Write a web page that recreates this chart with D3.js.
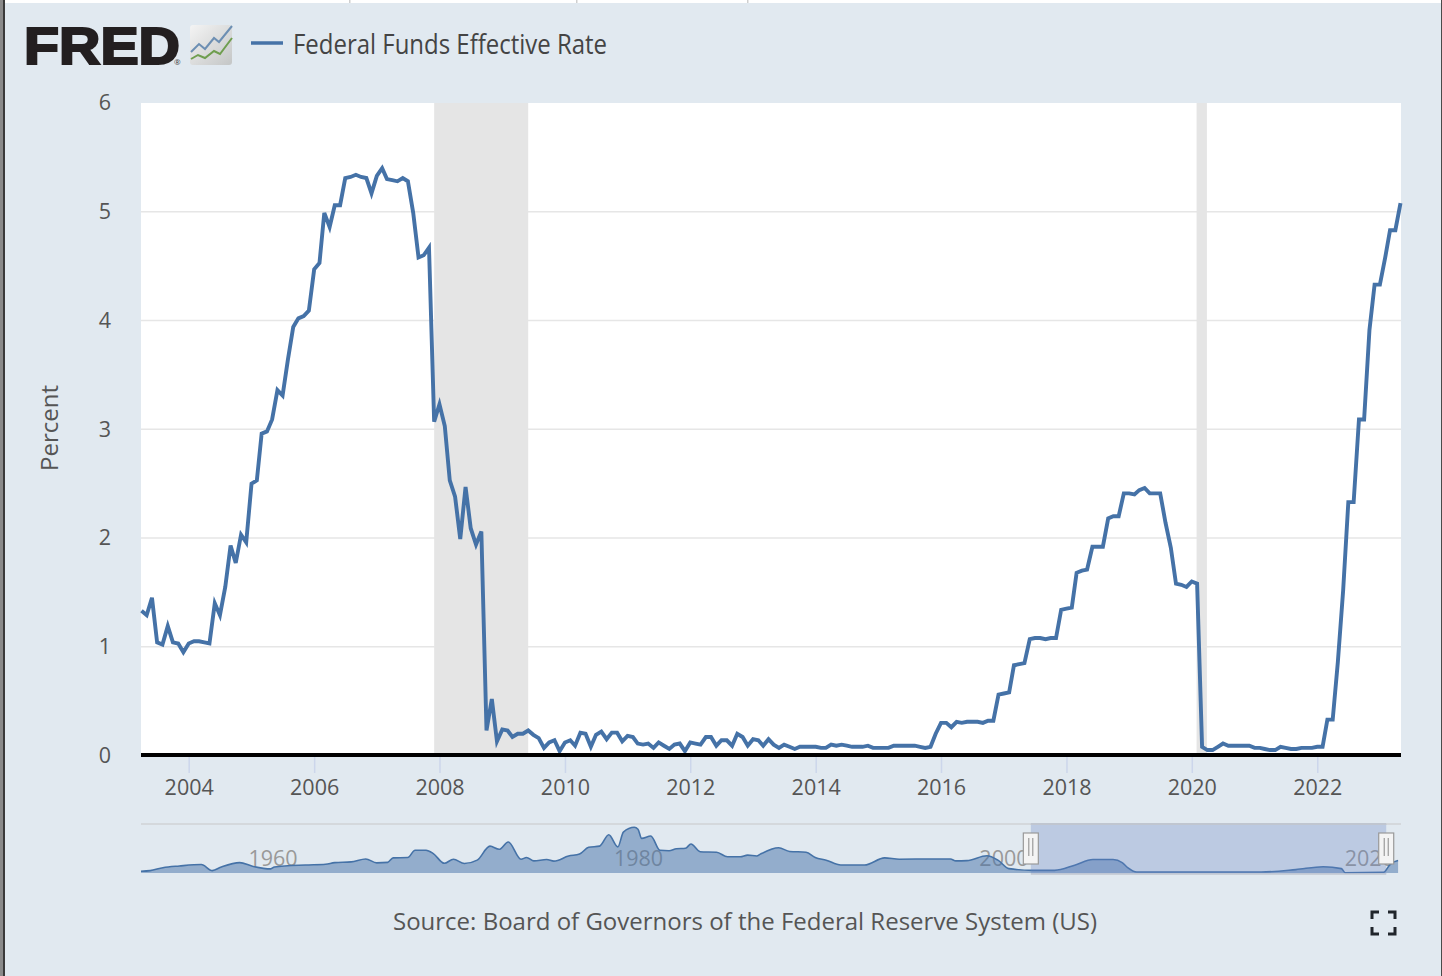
<!DOCTYPE html>
<html>
<head>
<meta charset="utf-8">
<title>Federal Funds Effective Rate</title>
<script src="https://cdn.jsdelivr.net/npm/d3@7"></script>
<style>
  html, body { margin: 0; padding: 0; background: #e1e9f0; overflow: hidden; }
  svg { display: block; font-family: "Open Sans", sans-serif; }
</style>
</head>
<body>
<script>
// monthly values, series starts Apr 2003
const rate2003 = [1.33, 1.29, 1.45, 1.04, 1.02, 1.19, 1.04, 1.03, 0.95];
const rate2004 = [1.03, 1.05, 1.05, 1.04, 1.03, 1.40, 1.29, 1.55, 1.93, 1.77, 2.03, 1.96];
const rate2005 = [2.50, 2.53, 2.96, 2.98, 3.09, 3.36, 3.31, 3.64, 3.94, 4.02, 4.04, 4.09];
const rate2006 = [4.47, 4.53, 4.99, 4.86, 5.06, 5.06, 5.31, 5.32, 5.34, 5.32, 5.31, 5.17];
const rate2007 = [5.33, 5.40, 5.30, 5.29, 5.28, 5.31, 5.28, 4.99, 4.58, 4.60, 4.67, 3.07];
const rate2008 = [3.23, 3.03, 2.53, 2.38, 1.99, 2.47, 2.09, 1.94, 2.06, 0.23, 0.52, 0.13];
const rate2009 = [0.24, 0.23, 0.17, 0.20, 0.20, 0.23, 0.19, 0.16, 0.07, 0.12, 0.14, 0.04];
const rate2010 = [0.12, 0.14, 0.09, 0.21, 0.20, 0.08, 0.19, 0.22, 0.15, 0.21, 0.21, 0.13];
const rate2011 = [0.18, 0.17, 0.11, 0.10, 0.11, 0.07, 0.12, 0.09, 0.06, 0.10, 0.11, 0.04];
const rate2012 = [0.12, 0.11, 0.10, 0.17, 0.17, 0.09, 0.14, 0.14, 0.09, 0.20, 0.17, 0.09];
const rate2013 = [0.15, 0.14, 0.09, 0.15, 0.10, 0.07, 0.10, 0.08, 0.06, 0.08, 0.08, 0.08];
const rate2014 = [0.08, 0.07, 0.07, 0.10, 0.09, 0.10, 0.09, 0.08, 0.08, 0.08, 0.09, 0.07];
const rate2015 = [0.07, 0.07, 0.07, 0.09, 0.09, 0.09, 0.09, 0.09, 0.08, 0.07, 0.08, 0.20];
const rate2016 = [0.30, 0.30, 0.26, 0.31, 0.30, 0.31, 0.31, 0.31, 0.30, 0.32, 0.32, 0.56];
const rate2017 = [0.57, 0.58, 0.83, 0.84, 0.85, 1.07, 1.08, 1.08, 1.07, 1.08, 1.08, 1.34];
const rate2018 = [1.35, 1.36, 1.68, 1.70, 1.71, 1.92, 1.92, 1.92, 2.18, 2.20, 2.20, 2.41];
const rate2019 = [2.41, 2.40, 2.44, 2.46, 2.41, 2.41, 2.41, 2.14, 1.91, 1.58, 1.57, 1.55];
const rate2020 = [1.60, 1.58, 0.08, 0.05, 0.05, 0.08, 0.11, 0.09, 0.09, 0.09, 0.09, 0.09];
const rate2021 = [0.07, 0.07, 0.06, 0.05, 0.05, 0.08, 0.07, 0.06, 0.06, 0.07, 0.07, 0.07];
const rate2022 = [0.08, 0.08, 0.33, 0.33, 0.86, 1.52, 2.33, 2.33, 3.09, 3.09, 3.91, 4.33];
const rate2023 = [4.33, 4.58, 4.83, 4.83, 5.08];

// recession bands, [start, end]
const recessions = [[new Date(2007, 11, 1), new Date(2009, 5, 1)], [new Date(2020, 0, 29), new Date(2020, 2, 29)]];

// navigator: whole history, smoothed. decimal year / percent
const navYears = [1954.5, 1955.0, 1955.7, 1956.6, 1957.8, 1958.4, 1958.9, 1959.9, 1960.6, 1961.6, 1961.8, 1963.5, 1964.6, 1965.1, 1966.0, 1966.8, 1967.4, 1968.0, 1968.3, 1969.1, 1969.5, 1970.1, 1970.5, 1971.1, 1971.6, 1972.2, 1972.9, 1973.6, 1974.1, 1974.6, 1975.3, 1975.6, 1976.0, 1976.7, 1977.1, 1977.9, 1978.5, 1979.0, 1979.6, 1980.1, 1980.6, 1980.9, 1981.5, 1981.7, 1981.9, 1982.4, 1982.9, 1983.4, 1983.8, 1984.3, 1984.6, 1985.1, 1986.0, 1986.6, 1987.3, 1987.7, 1988.2, 1988.4, 1989.4, 1990.0, 1990.9, 1991.4, 1992.0, 1992.8, 1994.1, 1995.2, 1996.0, 1997.6, 1998.8, 1999.1, 1999.7, 2000.8, 2001.4, 2002.0, 2003.3, 2004.5, 2005.6, 2006.6, 2007.7, 2008.2, 2008.5, 2009.0, 2015.8, 2017.7, 2019.2, 2020.2, 2020.4, 2022.5, 2022.9, 2023.3];
const navValues = [0.7, 0.97, 2.2, 2.9, 3.5, 1.0, 2.5, 4.3, 2.8, 1.7, 2.5, 3.3, 3.6, 4.3, 4.6, 5.8, 4.2, 4.4, 6.25, 6.4, 9.4, 9.4, 8.0, 4.0, 5.7, 3.9, 5.3, 11.1, 9.8, 12.8, 5.7, 6.4, 5.0, 5.6, 4.9, 7.0, 7.8, 10.6, 11.1, 15.8, 10.8, 16.9, 18.9, 18.1, 14.3, 15.3, 9.4, 9.2, 10.0, 10.2, 12.0, 8.8, 8.6, 6.7, 6.7, 7.4, 7.0, 7.8, 10.4, 8.9, 8.6, 6.4, 5.3, 3.3, 3.3, 6.25, 5.7, 5.8, 5.8, 5.0, 5.1, 7.1, 5.3, 1.8, 1.1, 1.1, 3.2, 5.55, 5.55, 4.3, 2.2, 0.4, 0.4, 1.4, 2.6, 1.8, 0.1, 0.3, 3.9, 5.2];
const navTicks = [1960, 1980, 2000, 2020];

const yTicks = [0, 1, 2, 3, 4, 5, 6];
const seriesName = "Federal Funds Effective Rate";
const sourceText = "Source: Board of Governors of the Federal Reserve System (US)";

const rates = [rate2003, rate2004, rate2005, rate2006, rate2007, rate2008, rate2009, rate2010, rate2011, rate2012, rate2013,
  rate2014, rate2015, rate2016, rate2017, rate2018, rate2019, rate2020, rate2021, rate2022, rate2023].flat();
const data = rates.map((v, i) => ({date: new Date(2003, 3 + i, 1), value: v}));
const nav = navYears.map((y, i) => ({year: y, value: navValues[i]}));

const width = 1442, height = 976;
const lineColor = "#4572a7", textColor = "#555";
const margin = {top: 103, right: 41, bottom: 221, left: 141};
const baseline = height - margin.bottom;

const svg = d3.select("body").append("svg").attr("width", width).attr("height", height);

const x = d3.scaleTime()
    .domain([data[0].date, data[data.length - 1].date])
    .range([margin.left + 0.5, width - margin.right - 0.5]);
const y = d3.scaleLinear().domain([0, 6]).range([baseline + 0.5, margin.top]);

// page furniture, bits of the window around the screenshot
svg.append("rect").attr("width", width).attr("height", 3).attr("fill", "#fff");
svg.append("g").selectAll("rect").data([349, 576, 747]).join("rect")
    .attr("x", d => d).attr("width", 1.5).attr("height", 3).attr("fill", "#cfcfcf");
svg.append("rect").attr("width", 3).attr("height", height).attr("fill", "#8a8a8a");
svg.append("rect").attr("x", 3).attr("width", 2).attr("height", height).attr("fill", "#3a3a3a");
svg.append("rect").attr("x", 1441).attr("width", 1).attr("height", height).attr("fill", "#4a4a4a");

// logo
svg.append("text").attr("x", 24).attr("y", 64)
    .attr("font-family", "'Liberation Sans', sans-serif").attr("font-weight", 700).attr("font-size", 52)
    .attr("textLength", 156).attr("lengthAdjust", "spacingAndGlyphs")
    .attr("fill", "#231f20").attr("stroke", "#231f20").attr("stroke-width", 2.2).text("FRED");
svg.append("text").attr("x", 174).attr("y", 65).attr("font-size", 8).attr("fill", "#444").text("®");
const logoGrad = svg.append("defs").append("linearGradient").attr("id", "logoGrad")
    .attr("x1", 0).attr("y1", 0).attr("x2", 1).attr("y2", 1);
logoGrad.append("stop").attr("offset", 0).attr("stop-color", "#f4f4f4");
logoGrad.append("stop").attr("offset", 1).attr("stop-color", "#c4c6c6");
const icon = svg.append("g").attr("transform", "translate(190,25)");
icon.append("rect").attr("width", 42).attr("height", 40).attr("rx", 3).attr("fill", "url(#logoGrad)");
icon.append("path").attr("d", "M1,27L9,19L15,24L24,13L29,17L42,1").attr("fill", "none").attr("stroke", "#6d8fb3").attr("stroke-width", 2);
icon.append("path").attr("d", "M1,34L8,30L15,33L24,26L30,29L42,13").attr("fill", "none").attr("stroke", "#6f9e4f").attr("stroke-width", 2);

// legend
svg.append("line").attr("x1", 251).attr("x2", 283).attr("y1", 43).attr("y2", 43)
    .attr("stroke", lineColor).attr("stroke-width", 3.5);
svg.append("text").attr("x", 293).attr("y", 54).attr("font-size", 26.5)
    .attr("textLength", 314).attr("lengthAdjust", "spacingAndGlyphs")
    .attr("fill", "#444").text(seriesName);

// plot area
svg.append("rect").attr("x", margin.left).attr("y", margin.top)
    .attr("width", width - margin.left - margin.right).attr("height", baseline - margin.top)
    .attr("fill", "#fff");

svg.append("g").selectAll("line").data(yTicks.filter(d => d > 0 && d < 6)).join("line")
    .attr("x1", margin.left).attr("x2", width - margin.right)
    .attr("y1", d => y(d)).attr("y2", d => y(d))
    .attr("stroke", "#e6e6e6").attr("stroke-width", 1.5);

svg.append("g").selectAll("rect").data(recessions).join("rect")
    .attr("x", d => x(d[0])).attr("width", d => x(d[1]) - x(d[0]))
    .attr("y", margin.top).attr("height", baseline - margin.top)
    .attr("fill", "#e5e5e5");

// y axis
const yAxis = svg.append("g").attr("transform", `translate(${margin.left},0)`)
    .call(d3.axisLeft(y).tickValues(yTicks).tickSize(0).tickPadding(30).tickFormat(d3.format("d")));
yAxis.select(".domain").remove();
yAxis.selectAll("text").attr("font-size", 21.5).attr("font-family", "'Open Sans', sans-serif").attr("fill", textColor);

svg.append("text")
    .attr("transform", `translate(58,428) rotate(-90)`)
    .attr("text-anchor", "middle").attr("font-size", 24).attr("fill", textColor)
    .text("Percent");

// x axis
const xAxis = svg.append("g").attr("transform", `translate(0,${baseline + 1})`)
    .call(d3.axisBottom(x).ticks(d3.timeYear.every(2)).tickSize(17).tickPadding(7).tickFormat(d3.timeFormat("%Y")));
xAxis.select(".domain").remove();
xAxis.selectAll("line").attr("stroke", "#ccd6eb").attr("stroke-width", 1.5);
xAxis.selectAll("text").attr("font-size", 21.5).attr("font-family", "'Open Sans', sans-serif").attr("fill", textColor);

svg.append("path").datum(data)
    .attr("fill", "none").attr("stroke", lineColor).attr("stroke-width", 3.9)
    .attr("stroke-linejoin", "miter").attr("stroke-miterlimit", 4)
    .attr("d", d3.line().x(d => x(d.date)).y(d => y(d.value)));

svg.append("rect").attr("x", margin.left).attr("y", baseline - 2)
    .attr("width", width - margin.left - margin.right).attr("height", 4).attr("fill", "#000");

// navigator
const navTop = 824, navBottom = 873;
const nx = d3.scaleLinear().domain([1954.5, 2023.35]).range([141, 1399]);
const ny = d3.scaleLinear().domain([0, 19]).range([navBottom, 827]);

svg.append("line").attr("x1", 141).attr("x2", width - margin.right).attr("y1", navTop).attr("y2", navTop)
    .attr("stroke", "#cfd2d6").attr("stroke-width", 1.5);

svg.append("g").selectAll("text").data(navTicks).join("text")
    .attr("x", d => nx(d) + 7).attr("y", 866)
    .attr("font-size", 21.5).attr("fill", "#999")
    .text(d => d);

svg.append("path").datum(nav)
    .attr("fill", lineColor).attr("fill-opacity", 0.5)
    .attr("d", d3.area().curve(d3.curveMonotoneX).x(d => nx(d.year)).y0(navBottom).y1(d => ny(d.value)));
svg.append("path").datum(nav)
    .attr("fill", "none").attr("stroke", lineColor).attr("stroke-width", 1.6)
    .attr("d", d3.line().curve(d3.curveMonotoneX).x(d => nx(d.year)).y(d => ny(d.value)));

// selected range, same window as the main chart
const selLeft = nx(2003.2), selRight = nx(2022.65);
svg.append("rect").attr("x", selLeft).attr("y", navTop).attr("width", selRight - selLeft)
    .attr("height", navBottom - navTop + 1).attr("fill", "#6685c2").attr("fill-opacity", 0.3);
svg.append("line").attr("x1", selLeft).attr("x2", selRight).attr("y1", navTop).attr("y2", navTop)
    .attr("stroke", "#c0c6d0").attr("stroke-width", 2);
svg.append("line").attr("x1", selLeft).attr("x2", selRight).attr("y1", navBottom + 1).attr("y2", navBottom + 1)
    .attr("stroke", "#c0c6d0").attr("stroke-width", 1.5);

const handle = svg.append("g").selectAll("g").data([selLeft, selRight]).join("g")
    .attr("transform", d => `translate(${d},833)`);
handle.append("rect").attr("x", -7.5).attr("width", 15).attr("height", 31)
    .attr("fill", "#f4f4f4").attr("stroke", "#999").attr("stroke-width", 1.2);
handle.selectAll("line").data([-2, 2]).join("line")
    .attr("x1", d => d).attr("x2", d => d).attr("y1", 5).attr("y2", 23)
    .attr("stroke", "#888").attr("stroke-width", 1);

// source
svg.append("text").attr("x", 745).attr("y", 930).attr("text-anchor", "middle")
    .attr("font-size", 23.5).attr("textLength", 704).attr("lengthAdjust", "spacingAndGlyphs")
    .attr("fill", textColor).text(sourceText);

// fullscreen icon
svg.append("path")
    .attr("d", "M1372,919V912H1379M1388,912H1395V919M1372,927V934H1379M1388,934H1395V927")
    .attr("fill", "none").attr("stroke", "#20252b").attr("stroke-width", 3);
</script>
</body>
</html>
